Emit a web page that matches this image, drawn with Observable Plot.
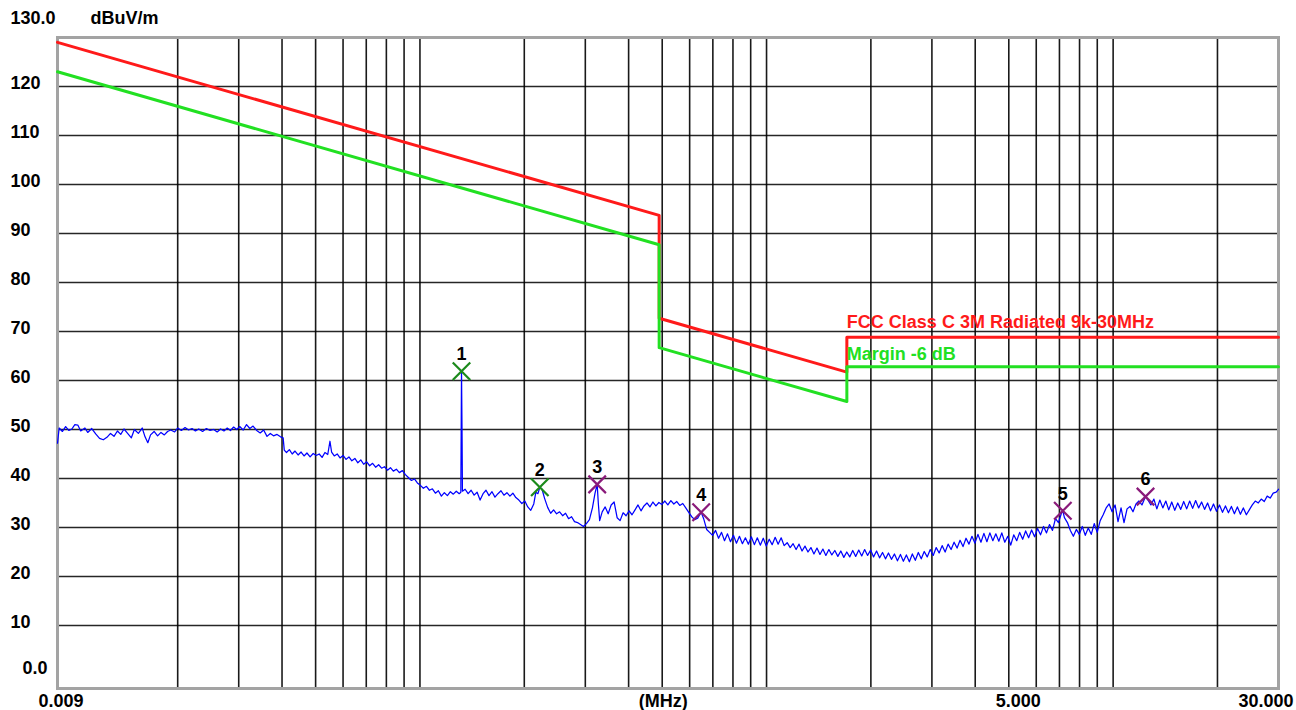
<!DOCTYPE html>
<html>
<head>
<meta charset="utf-8">
<script src="https://cdn.jsdelivr.net/npm/d3@7"></script>
<script src="https://cdn.jsdelivr.net/npm/@observablehq/plot@0.6"></script>
<style>
  html, body { margin: 0; padding: 0; background: #fff; }
  #chart { width: 1296px; height: 710px; }
</style>
</head>
<body>
<div id="chart"></div>
<script>
// ---------- data ----------
const xGrid = [0.02,0.03,0.04,0.05,0.06,0.07,0.08,0.09,0.1,0.2,0.3,0.4,0.5,0.6,0.7,0.8,0.9,1,2,3,4,5,6,7,8,9,10,20];
const yGrid = [10,20,30,40,50,60,70,80,90,100,110,120];
const yTickLabels = ["10","20","30","40","50","60","70","80","90","100","110","120"];
const yTopLabel = ["130.0"];
const yBottomLabel = ["0.0"];
const unitLabel = ["dBuV/m"];
const xTickFreq = [0.009, 0.5, 5, 30];
const xTickText = ["0.009", "(MHz)", "5.000", "30.000"];

// FCC limit and margin lines (MHz, dBuV/m)
const limitFreq   = [0.009, 0.49, 0.49, 1.705, 1.705, 30];
const limitLevel  = [129.0, 93.7, 72.7, 61.7, 68.8, 68.8];
const marginLevel = [123.0, 87.7, 66.7, 55.7, 62.8, 62.8];
const limitName = "FCC Class C 3M Radiated 9k-30MHz";
const marginName = "Margin -6 dB";

// markers
const markerNo    = [1, 2, 3, 4, 5, 6];
const markerFreq  = [0.1318, 0.2217, 0.3246, 0.6478, 7.158, 12.40];
const markerLevel = [61.9, 38.2, 38.8, 33.1, 33.4, 36.3];
const markerDet   = ["QP", "QP", "PK", "PK", "PK", "PK"];

// measured trace (kHz, dBuV/m)
const traceKHz = [
9.0,9.1,9.3,9.5,9.7,9.9,10.1,10.3,10.5,10.8,11.0,11.3,11.6,11.9,12.2,12.5,12.8,13.1,13.4,13.7,
14.0,14.3,14.7,15.0,15.4,15.8,16.1,16.4,16.7,17.1,17.5,17.9,18.3,18.7,19.1,19.6,20.0,20.5,21.0,21.5,
22.0,22.5,23.0,23.6,24.2,24.8,25.4,26.0,26.6,27.2,27.8,28.4,29.0,29.6,30.2,30.9,31.6,32.3,33.0,33.8,
34.6,35.4,36.2,37.0,37.8,38.7,39.6,40.3,40.6,41.2,42.0,42.8,43.6,44.5,45.4,46.3,47.2,48.2,49.2,50.2,
51.2,52.2,53.2,54.2,55.0,55.6,56.6,57.7,58.8,60.0,61.2,62.4,63.6,64.9,66.2,67.5,68.8,70.2,71.6,73.0,
74.5,76.0,77.5,79.0,80.6,82.2,83.8,85.5,87.2,89.0,90.8,92.6,94.5,96.4,98.3,100.3,102.3,104.4,106.5,108.6,
110.8,113.0,115.3,117.6,120.0,122.4,124.8,127.3,129.8,131.2,131.8,132.3,132.6,135.0,137.7,140.5,143.3,146.2,149.1,152.1,
155.1,158.2,161.4,164.6,167.9,171.3,174.7,178.2,181.8,185.4,189.1,192.9,196.8,200.7,204.7,208.8,213.0,216.0,219.0,221.7,
225.0,229.0,233.6,238.3,243.0,247.9,252.9,258.0,263.1,268.4,273.8,279.2,284.8,290.5,296.3,302.2,308.3,314.5,320.0,324.6,
327.0,330.0,335.6,342.3,349.2,356.2,363.3,370.6,378.0,385.6,393.3,401.2,409.2,417.4,425.8,434.3,443.0,451.9,460.9,470.1,
479.5,489.1,498.9,508.9,519.1,529.5,540.1,550.9,561.9,573.2,584.7,596.4,608.3,620.5,632.9,647.8,658.5,671.7,685.1,698.8,
712.8,727.1,741.6,756.4,771.6,787.0,802.7,818.8,835.2,851.9,868.9,886.3,904.0,922.1,940.5,959.3,978.5,998.1,1018,1038,
1059,1080,1102,1124,1147,1170,1193,1217,1241,1266,1291,1317,1343,1370,1398,1426,1454,1483,1513,1543,
1574,1606,1638,1671,1704,1738,1773,1808,1845,1882,1919,1957,1997,2036,2077,2119,2161,2204,2248,2293,
2339,2386,2434,2482,2532,2583,2634,2687,2741,2795,2851,2908,2967,3026,3087,3148,3211,3276,3341,3408,
3476,3546,3617,3689,3763,3838,3915,3993,4073,4155,4238,4323,4409,4497,4587,4679,4773,4868,4966,5065,
5166,5270,5375,5483,5592,5704,5818,5935,6053,6174,6298,6424,6553,6684,6818,6954,7093,7158,7235,7380,
7527,7678,7831,7988,8148,8311,8477,8647,8820,8996,9176,9360,9547,9738,9933,10130,10330,10540,10750,10970,
11190,11410,11640,11870,12110,12400,12600,12850,13110,13370,13640,13910,14190,14470,14760,15060,15360,15670,15980,16300,
16630,16960,17300,17650,18000,18360,18730,19100,19480,19870,20270,20680,21090,21510,21940,22380,22830,23290,23750,24230,
24710,25210,25710,26230,26750,27290,27830,28390,28960,29540,30000
];
const traceLevel = [
47.2,50.3,49.6,50.6,49.8,50.1,51.0,50.9,49.7,50.3,49.4,50.2,49.1,48.2,47.9,48.4,49.2,48.6,49.7,49.0,
50.1,49.3,48.3,50.0,49.2,50.3,48.5,47.3,48.9,49.6,48.7,49.4,48.9,49.6,49.9,49.5,50.3,49.8,50.4,49.9,
50.2,49.7,50.1,49.6,50.2,49.8,50.0,49.5,50.1,49.7,50.3,49.8,50.5,50.0,50.6,49.9,51.0,50.2,50.7,49.8,
49.3,49.9,48.6,49.2,48.7,49.0,48.5,48.3,45.8,45.3,45.9,45.0,45.6,44.8,45.4,44.6,45.2,44.4,45.1,44.7,
45.0,44.3,45.3,44.9,47.6,45.4,44.6,45.0,44.2,44.7,43.9,44.4,43.6,44.1,43.2,43.8,42.9,43.4,42.6,43.1,
42.3,42.8,42.1,42.4,41.7,42.2,41.5,41.9,41.2,41.6,40.8,40.2,39.6,39.9,39.1,38.6,38.0,38.4,37.6,37.9,
37.0,37.5,36.4,37.1,36.5,37.3,36.8,37.4,36.9,37.2,61.9,48.5,37.4,37.8,36.9,37.6,36.6,37.2,35.6,36.9,
37.6,36.5,37.3,36.2,36.9,37.5,36.6,37.1,36.4,37.0,36.1,35.6,34.9,35.4,34.2,33.5,34.8,37.2,36.9,38.2,
37.8,35.9,34.1,32.9,33.6,32.8,33.2,32.4,32.9,31.8,32.2,31.2,31.0,30.6,30.2,30.8,31.6,34.0,37.0,38.8,
35.0,31.4,33.2,34.2,32.8,34.6,35.2,32.0,31.4,33.0,32.4,33.4,32.6,33.6,34.6,33.4,34.4,35.0,34.2,35.2,
34.4,35.1,34.7,35.4,34.6,35.5,34.8,35.3,34.5,34.9,34.0,33.1,32.2,31.6,31.9,33.1,31.8,29.6,29.0,28.4,
29.4,27.8,29.0,27.3,28.7,27.1,28.4,26.8,28.2,26.7,27.9,26.6,28.1,26.5,27.9,26.4,27.8,26.2,27.6,26.5,
28.0,26.6,27.9,26.3,26.9,25.9,26.7,25.5,26.6,25.2,26.2,25.0,25.9,24.6,25.8,24.5,25.6,24.3,25.5,24.4,
25.3,24.1,25.2,23.9,25.0,24.0,25.3,24.1,25.4,24.2,25.5,24.3,25.4,24.0,25.2,23.8,24.9,23.6,24.8,23.5,
24.6,23.2,24.5,23.1,24.4,23.0,24.6,23.3,24.9,23.6,25.1,24.0,25.5,24.3,25.9,24.8,26.3,25.0,26.6,25.5,
27.0,25.8,27.4,26.1,27.8,26.6,28.2,26.8,28.6,27.0,28.8,27.1,28.9,27.3,28.7,27.2,28.9,27.0,28.2,26.4,
28.5,27.3,29.0,27.6,29.3,27.9,29.5,28.1,29.8,28.5,30.2,28.9,30.6,29.4,31.8,31.0,32.9,33.4,32.0,31.0,
29.4,28.2,29.6,28.6,30.2,28.4,29.9,28.6,30.8,29.0,31.4,32.6,34.0,34.8,33.2,34.6,31.2,34.0,31.0,33.8,
34.3,33.2,34.8,35.4,34.6,36.3,35.6,34.6,35.8,33.8,35.6,34.0,35.4,33.6,35.2,33.5,35.0,33.7,35.3,33.8,
35.4,33.9,35.5,34.0,35.2,33.7,35.0,33.4,34.8,33.3,34.6,33.1,34.4,33.0,34.3,32.8,34.2,32.7,34.0,32.6,
33.6,34.6,35.4,35.0,35.8,35.3,36.4,36.0,37.0,37.2,37.8
];

// ---------- tables built from the arrays ----------
const trace = traceKHz.map((k, i) => ({ f: k / 1000, v: traceLevel[i] }));
const limits = limitFreq.map((f, i) => ({ f, limit: limitLevel[i], margin: marginLevel[i] }));
const markers = markerNo.map((n, i) => ({ n, f: markerFreq[i], v: markerLevel[i], det: markerDet[i] }));
const xTicks = xTickFreq.map((f, i) => ({ f, t: xTickText[i] }));

const FONT = "Liberation Sans, Arial, sans-serif";
const RED = "#ff1a1a";
const GREEN = "#22e022";
const detColor = d => d.det === "QP" ? "#1b8a1b" : "#8a1a7a";
const txt = { fontFamily: FONT, fontSize: 18, fontWeight: "bold", fill: "black" };
const xLab = { x: "f", text: "t", frameAnchor: "bottom", lineAnchor: "middle", dy: 13, ...txt };

const chart = Plot.plot({
  width: 1296,
  height: 710,
  marginLeft: 57,
  marginRight: 18,
  marginTop: 37,
  marginBottom: 22,
  style: { fontFamily: FONT, background: "white", color: "black", overflow: "visible" },
  x: { type: "log", domain: [0.009, 30], axis: null },
  y: { domain: [-2.86, 130], axis: null },
  marks: [
    Plot.gridX(xGrid, { stroke: "black", strokeOpacity: 0.9, strokeWidth: 1.6 }),
    Plot.gridY(yGrid, { stroke: "black", strokeOpacity: 0.85, strokeWidth: 1.6 }),
    Plot.frame({ stroke: "#a3a3a3", strokeWidth: 3 }),
    // y labels
    Plot.text(yGrid, { y: d => d, text: (d, i) => yTickLabels[i], frameAnchor: "left", lineAnchor: "middle", textAnchor: "start", dx: -47, dy: -3, ...txt }),
    Plot.text(yTopLabel, { y: () => 130, text: d => d, frameAnchor: "left", lineAnchor: "middle", textAnchor: "start", dx: -47, dy: -19, ...txt }),
    Plot.text(yBottomLabel, { y: () => 0, text: d => d, frameAnchor: "left", lineAnchor: "middle", textAnchor: "start", dx: -35, dy: -6, ...txt }),
    Plot.text(unitLabel, { text: d => d, frameAnchor: "top-left", lineAnchor: "middle", textAnchor: "start", dx: 33, dy: -19, ...txt, letterSpacing: "1px" }),
    // x labels
    Plot.text(xTicks.filter(d => d.t === xTickText[0]), { ...xLab, textAnchor: "start", dx: -19 }),
    Plot.text(xTicks.filter(d => d.t === xTickText[1]), { ...xLab, textAnchor: "middle", dx: 1 }),
    Plot.text(xTicks.filter(d => d.t === xTickText[2]), { ...xLab, textAnchor: "start", dx: -13 }),
    Plot.text(xTicks.filter(d => d.t === xTickText[3]), { ...xLab, textAnchor: "end", dx: 15 }),
    // trace
    Plot.line(trace, { x: "f", y: "v", stroke: "#0000ff", strokeWidth: 1.25 }),
    // limit lines
    Plot.line(limits, { x: "f", y: "limit", stroke: RED, strokeWidth: 3, curve: "linear" }),
    Plot.line(limits, { x: "f", y: "margin", stroke: GREEN, strokeWidth: 3, curve: "linear" }),
    Plot.text([limitName], { x: () => limitFreq[3], y: () => limitLevel[4], text: d => d, textAnchor: "start", lineAnchor: "middle", dx: 0, dy: -15, fill: RED, fontFamily: FONT, fontSize: 18, fontWeight: "bold", letterSpacing: "1.2px" }),
    Plot.text([marginName], { x: () => limitFreq[3], y: () => marginLevel[4], text: d => d, textAnchor: "start", lineAnchor: "middle", dx: 0, dy: -13, fill: GREEN, fontFamily: FONT, fontSize: 18, fontWeight: "bold", letterSpacing: "0.6px" }),
    // markers
    Plot.dot(markers, { x: "f", y: "v", symbol: "times", r: 8, stroke: detColor, strokeWidth: 2.2 }),
    Plot.text(markers, { x: "f", y: "v", text: d => String(d.n), lineAnchor: "middle", dy: -17, fontFamily: FONT, fontSize: 18, fontWeight: "bold", fill: "black" })
  ]
});

document.getElementById("chart").appendChild(chart);
</script>
</body>
</html>
